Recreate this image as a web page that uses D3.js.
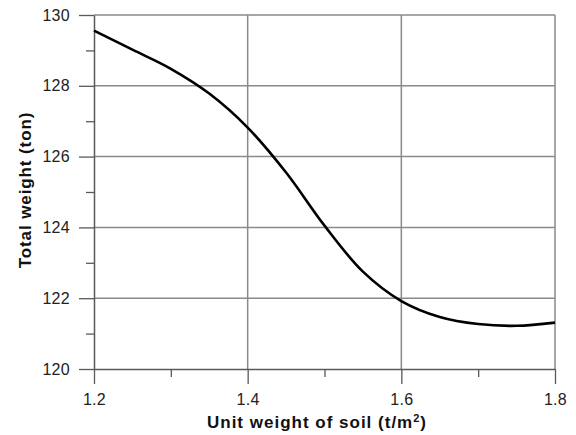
<!DOCTYPE html>
<html>
<head>
<meta charset="utf-8">
<script src="https://cdn.jsdelivr.net/npm/d3@7"></script>
<style>
  body { margin: 0; background: #fff; }
  svg { display: block; font-family: "Liberation Sans", Arial, sans-serif; }
</style>
</head>
<body>
<div id="chart"></div>
<script>
// values
const soilWeight = [1.2, 1.25, 1.3, 1.35, 1.4, 1.45, 1.5, 1.55, 1.6, 1.65, 1.7, 1.75, 1.8];
const totalWeight = [129.56, 129.02, 128.48, 127.78, 126.82, 125.55, 124.05, 122.75, 121.92, 121.47, 121.27, 121.22, 121.31];
const xMajorTicks = [1.2, 1.4, 1.6, 1.8];
const xMinorTicks = [1.3, 1.5, 1.7];
const yMajorTicks = [120, 122, 124, 126, 128, 130];
const yMinorTicks = [121, 123, 125, 127, 129];
const xTitle = "Unit weight of soil (t/m";
const xTitleSup = "2";
const xTitleEnd = ")";
const yTitle = "Total weight (ton)";

const width = 576, height = 435;
const margin = { top: 15, right: 21, bottom: 66, left: 94 };

const svg = d3.select("#chart").append("svg")
  .attr("width", width)
  .attr("height", height);

const x = d3.scaleLinear()
  .domain([1.2, 1.8])
  .range([margin.left, width - margin.right]);

const y = d3.scaleLinear()
  .domain([120, 130])
  .range([height - margin.bottom, margin.top]);

const gridColor = "#8a8a8a";
const axisColor = "#5a5a5a";

// grid
svg.append("g")
  .selectAll("line")
  .data(yMajorTicks.slice(1))
  .join("line")
  .attr("x1", x(1.2)).attr("x2", x(1.8))
  .attr("y1", d => y(d)).attr("y2", d => y(d))
  .attr("stroke", gridColor)
  .attr("stroke-width", 1.5);

svg.append("g")
  .selectAll("line")
  .data(xMajorTicks.slice(1))
  .join("line")
  .attr("x1", d => x(d)).attr("x2", d => x(d))
  .attr("y1", y(120)).attr("y2", y(130))
  .attr("stroke", gridColor)
  .attr("stroke-width", 1.5);

const styleAxis = g => {
  g.select(".domain").attr("stroke", axisColor).attr("stroke-width", 1.5);
  g.selectAll(".tick line").attr("stroke", axisColor).attr("stroke-width", 1.3);
  g.selectAll(".tick text")
    .attr("fill", "#222")
    .attr("font-size", 16)
    .attr("letter-spacing", 0.3);
};

// y axis
svg.append("g")
  .attr("transform", `translate(${x(1.2)},0)`)
  .call(d3.axisLeft(y).tickValues(yMajorTicks).tickSize(15).tickPadding(9).tickSizeOuter(0).tickFormat(d3.format("d")))
  .call(g => g.attr("font-family", null))
  .call(styleAxis);

svg.append("g")
  .attr("transform", `translate(${x(1.2)},0)`)
  .call(d3.axisLeft(y).tickValues(yMinorTicks).tickSize(8).tickFormat(""))
  .call(g => g.select(".domain").remove())
  .call(styleAxis);

// x axis
svg.append("g")
  .attr("transform", `translate(0,${y(120)})`)
  .call(d3.axisBottom(x).tickValues(xMajorTicks).tickSize(15).tickPadding(10).tickSizeOuter(0).tickFormat(d3.format(".1f")))
  .call(g => g.attr("font-family", null))
  .call(styleAxis);

svg.append("g")
  .attr("transform", `translate(0,${y(120)})`)
  .call(d3.axisBottom(x).tickValues(xMinorTicks).tickSize(8).tickFormat(""))
  .call(g => g.select(".domain").remove())
  .call(styleAxis);

// curve
const line = d3.line()
  .x((d, i) => x(soilWeight[i]))
  .y(d => y(d))
  .curve(d3.curveCatmullRom.alpha(0.5));

svg.append("path")
  .datum(totalWeight)
  .attr("fill", "none")
  .attr("stroke", "#000")
  .attr("stroke-width", 2.6)
  .attr("stroke-linejoin", "round")
  .attr("d", line);

// titles
const xt = svg.append("text")
  .attr("x", 317)
  .attr("y", 428)
  .attr("text-anchor", "middle")
  .attr("font-size", 17)
  .attr("font-weight", "bold")
  .attr("letter-spacing", 1)
  .attr("fill", "#111");
xt.append("tspan").text(xTitle);
xt.append("tspan").attr("dy", -6).attr("font-size", 11).text(xTitleSup);
xt.append("tspan").attr("dy", 6).text(xTitleEnd);

svg.append("text")
  .attr("transform", "translate(31,190) rotate(-90)")
  .attr("text-anchor", "middle")
  .attr("font-size", 17)
  .attr("font-weight", "bold")
  .attr("letter-spacing", 0.9)
  .attr("fill", "#111")
  .text(yTitle);
</script>
</body>
</html>
